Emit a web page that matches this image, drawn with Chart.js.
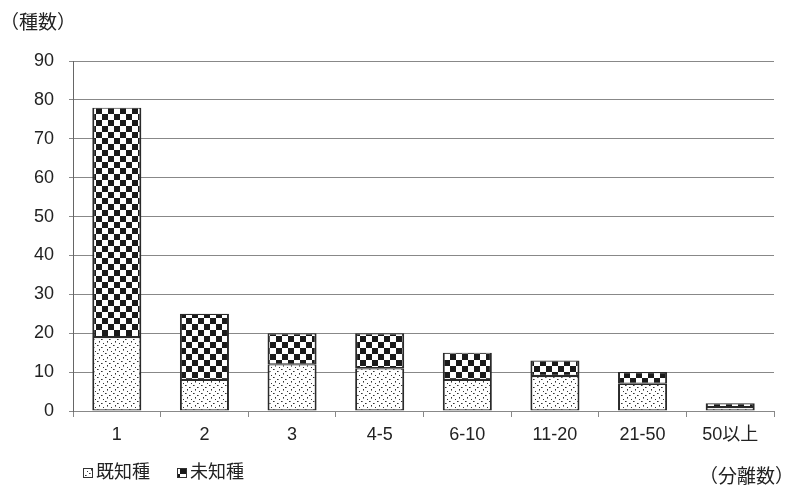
<!DOCTYPE html>
<html><head><meta charset="utf-8">
<script src="https://cdn.jsdelivr.net/npm/chart.js@4.4.1/dist/chart.umd.min.js"></script>
<style>html,body{margin:0;padding:0;background:#fff}#wrap{width:792px;height:492px}</style>
</head><body><div id="wrap"><canvas id="c" width="792" height="492"></canvas></div>
<script>
// Number of isolates per species group, split into known / unknown species
const categories = ['1', '2', '3', '4-5', '6-10', '11-20', '21-50', '50以上'];
const knownSpecies = [19, 8, 12, 11, 8, 9, 7, 1];
const unknownSpecies = [59, 17, 8, 9, 7, 4, 3, 1];
const seriesNames = ['既知種', '未知種'];
const yAxisTitle = '（種数）';
const xAxisTitle = '（分離数）';

const FONT = "'Liberation Sans', 'Noto Sans CJK JP', sans-serif";
const TEXT = '#222';

// Stipple fill: sparse dark dots on white
function makeDotPattern() {
  const c = document.createElement('canvas');
  c.width = 8; c.height = 8;
  const g = c.getContext('2d');
  g.fillStyle = '#fff'; g.fillRect(0, 0, 8, 8);
  g.fillStyle = '#333';
  [[1, 1], [5, 3], [3, 5], [7, 7]].forEach(([x, y]) => g.fillRect(x, y, 1, 1));
  g.fillStyle = '#888';
  [[2, 1], [6, 3], [3, 6]].forEach(([x, y]) => g.fillRect(x, y, 1, 1));
  return g.createPattern(c, 'repeat');
}

// Checkerboard fill
function makeCheckPattern() {
  const s = 6;
  const c = document.createElement('canvas');
  c.width = s * 2; c.height = s * 2;
  const g = c.getContext('2d');
  g.fillStyle = '#fff'; g.fillRect(0, 0, s * 2, s * 2);
  g.fillStyle = '#1a1a1a';
  g.fillRect(0, 0, s, s);
  g.fillRect(s, s, s, s);
  return g.createPattern(c, 'repeat');
}

const dotFill = makeDotPattern();
const checkFill = makeCheckPattern();
const fills = [dotFill, checkFill];

// Axis captions and the legend drawn below the plot
const annotations = {
  id: 'annotations',
  afterDraw(chart) {
    const ctx = chart.ctx;
    ctx.save();
    ctx.fillStyle = TEXT;
    ctx.font = '19px ' + FONT;
    ctx.textBaseline = 'middle';
    ctx.textAlign = 'left';
    ctx.fillText(yAxisTitle, 0, 24);
    ctx.fillText(xAxisTitle, 699, 478);

    ctx.font = '18px ' + FONT;
    let x = 83;
    const y = 473;
    seriesNames.forEach((name, i) => {
      ctx.fillStyle = fills[i];
      ctx.fillRect(x, y - 5, 10, 10);
      ctx.strokeStyle = '#333';
      ctx.lineWidth = 1;
      ctx.strokeRect(x + 0.5, y - 4.5, 9, 9);
      ctx.fillStyle = TEXT;
      ctx.fillText(name, x + 13, y);
      x += 94;
    });
    ctx.restore();
  }
};

new Chart(document.getElementById('c'), {
  type: 'bar',
  data: {
    labels: categories,
    datasets: [
      {
        label: seriesNames[0],
        data: knownSpecies,
        backgroundColor: dotFill,
        borderColor: '#2a2a2a',
        borderWidth: { left: 2, right: 2, top: 1.2, bottom: 1.2 },
        borderSkipped: false,
        barPercentage: 0.56,
        categoryPercentage: 1
      },
      {
        label: seriesNames[1],
        data: unknownSpecies,
        backgroundColor: checkFill,
        borderColor: '#2a2a2a',
        borderWidth: { left: 2, right: 2, top: 1.2, bottom: 1.2 },
        borderSkipped: false,
        barPercentage: 0.56,
        categoryPercentage: 1
      }
    ]
  },
  options: {
    responsive: false,
    devicePixelRatio: 1,
    animation: false,
    layout: { padding: { top: 61, right: 18, left: 0, bottom: 0 } },
    plugins: { legend: { display: false }, tooltip: { enabled: false } },
    scales: {
      x: {
        stacked: true,
        grid: { drawOnChartArea: false, drawTicks: true, tickLength: 6, color: '#888', offset: true },
        border: { color: '#888' },
        ticks: { color: TEXT, font: { family: FONT, size: 18 }, padding: 7, maxRotation: 0 },
        afterFit(s) { s.height = 81; }
      },
      y: {
        stacked: true,
        min: 0,
        max: 90,
        ticks: { stepSize: 10, color: TEXT, font: { family: FONT, size: 18 }, padding: 15 },
        grid: { color: '#888', tickLength: 4 },
        border: { color: '#666' },
        afterFit(s) { s.width = 73; }
      }
    }
  },
  plugins: [annotations]
});
</script>
</body></html>
